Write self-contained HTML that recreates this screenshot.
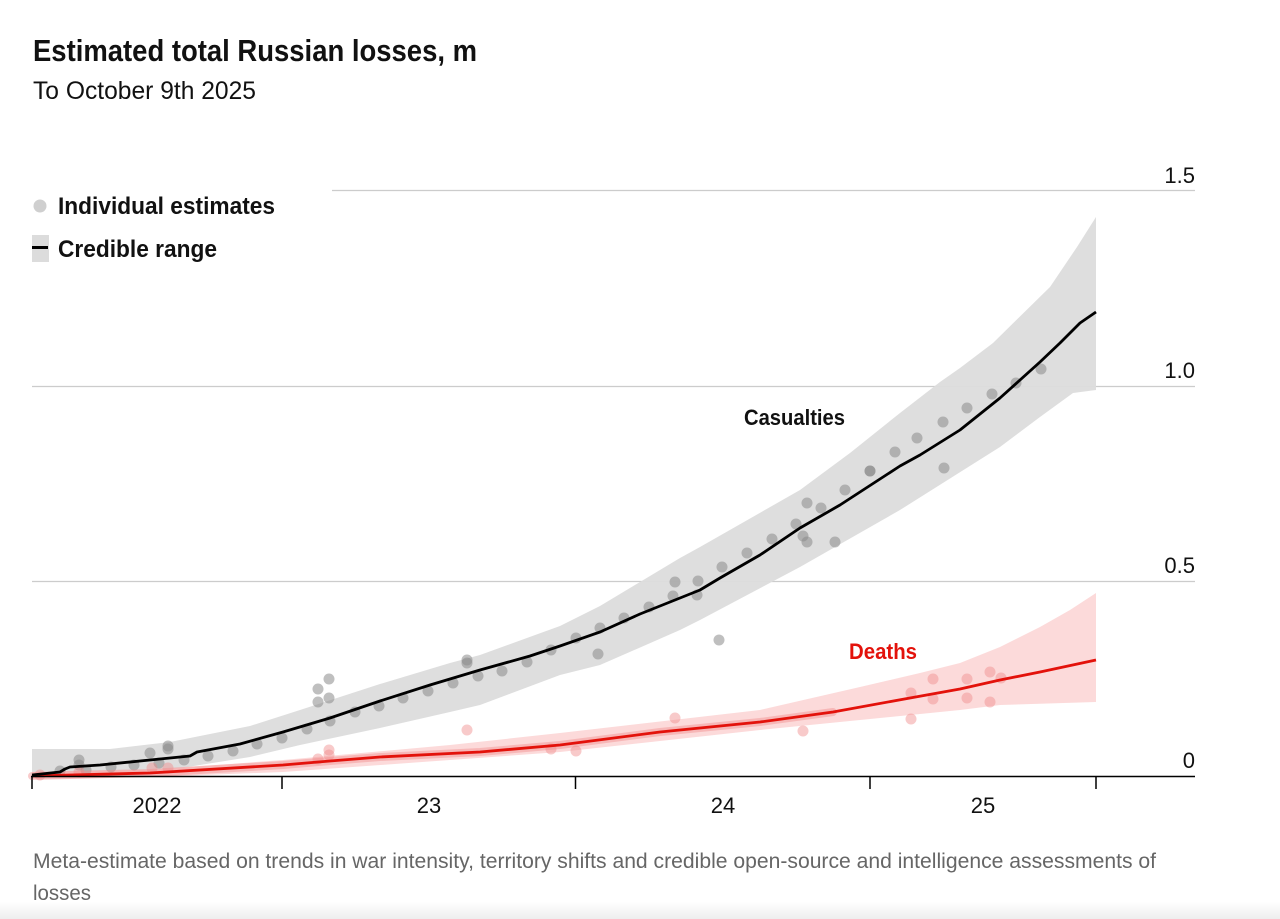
<!DOCTYPE html>
<html><head><meta charset="utf-8"><style>
html,body{margin:0;padding:0;background:#fff;}
svg{display:block;}
text{font-family:"Liberation Sans",Arial,sans-serif;}
</style></head><body>
<svg width="1280" height="919" viewBox="0 0 1280 919" xmlns="http://www.w3.org/2000/svg">
<defs>
<linearGradient id="bg" x1="0" y1="0" x2="0" y2="1">
<stop offset="0" stop-color="#ffffff"/><stop offset="1" stop-color="#eeeeee"/>
</linearGradient>
</defs>
<rect x="0" y="0" width="1280" height="919" fill="#fff"/>
<rect x="0" y="902" width="1280" height="17" fill="url(#bg)"/>

<!-- Title -->
<text x="33" y="61" font-size="31" font-weight="bold" fill="#111" textLength="444" lengthAdjust="spacingAndGlyphs">Estimated total Russian losses, m</text>
<text x="33" y="99" font-size="25" fill="#111" textLength="223" lengthAdjust="spacingAndGlyphs">To October 9th 2025</text>

<!-- Legend -->
<circle cx="40" cy="206" r="6.5" fill="#cfcfcf"/>
<text x="58" y="214" font-size="24" font-weight="bold" fill="#111" textLength="217" lengthAdjust="spacingAndGlyphs">Individual estimates</text>
<rect x="32" y="235" width="17" height="27" fill="#dcdcdc"/>
<line x1="32" y1="247.5" x2="48" y2="247.5" stroke="#000" stroke-width="3"/>
<text x="58" y="257" font-size="24" font-weight="bold" fill="#111" textLength="159" lengthAdjust="spacingAndGlyphs">Credible range</text>

<!-- Gridlines -->
<line x1="332" y1="190.5" x2="1195" y2="190.5" stroke="#cccccc" stroke-width="1.2"/>
<line x1="32" y1="386.5" x2="1195" y2="386.5" stroke="#cccccc" stroke-width="1.2"/>
<line x1="32" y1="581.5" x2="1195" y2="581.5" stroke="#cccccc" stroke-width="1.2"/>

<!-- Y labels -->
<text x="1195" y="183" font-size="22" fill="#111" text-anchor="end">1.5</text>
<text x="1195" y="378" font-size="22" fill="#111" text-anchor="end">1.0</text>
<text x="1195" y="573" font-size="22" fill="#111" text-anchor="end">0.5</text>
<text x="1195" y="768" font-size="22" fill="#111" text-anchor="end">0</text>

<!-- Casualties band -->
<polygon fill="#dcdcdc" fill-opacity="0.95" points="32,749 110,749 170,742 250,726 300,710 380,684 450,663 480,655 560,626 600,606 680,558 700,547 800,490 850,453 900,413 940,382 960,368 993,343 1050,287 1077,247 1096,217 1096,390 1073,393 1040,417 1000,447 900,510 800,567 700,620 680,630 600,665 560,675 480,705 450,712 380,728 300,745 250,757 150,773 32,776"/>

<!-- Deaths band -->
<polygon fill="#fbd3d3" fill-opacity="0.85" points="32,772 150,770 283,760 450,745 560,733 760,710 860,687 920,673 960,663 1000,647 1040,627 1070,610 1096,593 1096,702 1000,705 960,710 860,720 760,730 560,752 450,760 283,772 150,777 32,779"/>

<!-- Casualty points -->
<g fill="#8a8a8a" fill-opacity="0.55">
<circle cx="60" cy="771" r="5.5"/><circle cx="79" cy="760" r="5.5"/><circle cx="79" cy="765" r="5.5"/>
<circle cx="86" cy="770" r="5.5"/><circle cx="111" cy="767" r="5.5"/><circle cx="134" cy="765" r="5.5"/>
<circle cx="150" cy="753" r="5.5"/><circle cx="159" cy="763" r="5.5"/><circle cx="168" cy="746" r="5.5"/>
<circle cx="168" cy="749" r="5.5"/><circle cx="184" cy="760" r="5.5"/><circle cx="208" cy="756" r="5.5"/>
<circle cx="233" cy="751" r="5.5"/><circle cx="257" cy="744" r="5.5"/><circle cx="282" cy="738" r="5.5"/>
<circle cx="307" cy="729" r="5.5"/><circle cx="318" cy="689" r="5.5"/><circle cx="318" cy="702" r="5.5"/>
<circle cx="329" cy="679" r="5.5"/><circle cx="329" cy="698" r="5.5"/><circle cx="330" cy="721" r="5.5"/>
<circle cx="355" cy="712" r="5.5"/><circle cx="379" cy="706" r="5.5"/><circle cx="403" cy="698" r="5.5"/>
<circle cx="428" cy="691" r="5.5"/><circle cx="453" cy="683" r="5.5"/><circle cx="467" cy="660" r="5.5"/>
<circle cx="467" cy="663" r="5.5"/><circle cx="478" cy="676" r="5.5"/><circle cx="502" cy="671" r="5.5"/>
<circle cx="527" cy="662" r="5.5"/><circle cx="551" cy="650" r="5.5"/><circle cx="576" cy="638" r="5.5"/>
<circle cx="598" cy="654" r="5.5"/><circle cx="600" cy="628" r="5.5"/><circle cx="624" cy="618" r="5.5"/>
<circle cx="649" cy="607" r="5.5"/><circle cx="673" cy="596" r="5.5"/><circle cx="675" cy="582" r="5.5"/>
<circle cx="697" cy="595" r="5.5"/><circle cx="698" cy="581" r="5.5"/><circle cx="719" cy="640" r="5.5"/>
<circle cx="722" cy="567" r="5.5"/><circle cx="747" cy="553" r="5.5"/><circle cx="772" cy="539" r="5.5"/>
<circle cx="796" cy="524" r="5.5"/><circle cx="803" cy="536" r="5.5"/><circle cx="807" cy="503" r="5.5"/>
<circle cx="807" cy="542" r="5.5"/><circle cx="821" cy="508" r="5.5"/><circle cx="835" cy="542" r="5.5"/>
<circle cx="845" cy="490" r="5.5"/><circle cx="870" cy="471" r="5.5"/><circle cx="870" cy="471" r="5.5"/>
<circle cx="895" cy="452" r="5.5"/><circle cx="917" cy="438" r="5.5"/><circle cx="943" cy="422" r="5.5"/>
<circle cx="944" cy="468" r="5.5"/><circle cx="967" cy="408" r="5.5"/><circle cx="992" cy="394" r="5.5"/>
<circle cx="1016" cy="383" r="5.5"/><circle cx="1041" cy="369" r="5.5"/>
</g>

<!-- Deaths points -->
<g fill="#f08a8a" fill-opacity="0.45">
<circle cx="40" cy="775" r="5.5"/><circle cx="79" cy="772" r="5.5"/>
<circle cx="152" cy="768" r="5.5"/><circle cx="168" cy="768" r="5.5"/>
<circle cx="318" cy="759" r="5.5"/><circle cx="329" cy="750" r="5.5"/><circle cx="329" cy="755" r="5.5"/>
<circle cx="467" cy="730" r="5.5"/><circle cx="551" cy="749" r="5.5"/><circle cx="576" cy="751" r="5.5"/>
<circle cx="675" cy="718" r="5.5"/><circle cx="803" cy="731" r="5.5"/>
<circle cx="911" cy="693" r="5.5"/><circle cx="911" cy="719" r="5.5"/>
<circle cx="933" cy="679" r="5.5"/><circle cx="933" cy="699" r="5.5"/>
<circle cx="967" cy="679" r="5.5"/><circle cx="967" cy="698" r="5.5"/>
<circle cx="990" cy="672" r="5.5"/><circle cx="990" cy="702" r="5.5"/><circle cx="1001" cy="678" r="5.5"/>
</g>

<!-- Deaths halo (dense daily estimates) -->
<polyline fill="none" stroke="#f28b8b" stroke-opacity="0.45" stroke-width="8" stroke-linejoin="round" stroke-linecap="round"
 points="32,776 150,773 283,765 330,761 380,757 480,752 560,745 660,732 760,722 833,712"/>

<!-- Deaths line -->
<polyline fill="none" stroke="#e3120b" stroke-width="2.8" stroke-linejoin="round"
 points="32,776 150,773 283,765 330,761 380,757 480,752 560,745 660,732 760,722 833,712 910,698 960,689 1000,680 1040,672 1096,660"/>

<!-- Casualties line -->
<polyline fill="none" stroke="#000" stroke-width="2.8" stroke-linejoin="round"
 points="32,775 60,772 65,769 70,767 100,765 150,760 190,756 197,752 240,744 283,732 330,718 380,701 430,685 480,670 530,656 560,646 600,632 640,614 680,598 700,590 720,578 760,555 800,528 840,505 880,479 900,466 920,455 960,430 1000,398 1040,362 1060,343 1080,323 1096,312"/>

<!-- Series labels -->
<text x="744" y="425" font-size="22.5" font-weight="bold" fill="#111" textLength="101" lengthAdjust="spacingAndGlyphs">Casualties</text>
<text x="849" y="659" font-size="22.5" font-weight="bold" fill="#e3120b" textLength="68" lengthAdjust="spacingAndGlyphs">Deaths</text>

<!-- X axis -->
<line x1="31" y1="776.5" x2="1195" y2="776.5" stroke="#000" stroke-width="1.5"/>
<g stroke="#000" stroke-width="1.5">
<line x1="32" y1="776" x2="32" y2="789"/>
<line x1="282" y1="776" x2="282" y2="789"/>
<line x1="575.5" y1="776" x2="575.5" y2="789"/>
<line x1="870" y1="776" x2="870" y2="789"/>
<line x1="1096" y1="776" x2="1096" y2="789"/>
</g>
<text x="157" y="813" font-size="22" fill="#111" text-anchor="middle">2022</text>
<text x="429" y="813" font-size="22" fill="#111" text-anchor="middle">23</text>
<text x="723" y="813" font-size="22" fill="#111" text-anchor="middle">24</text>
<text x="983" y="813" font-size="22" fill="#111" text-anchor="middle">25</text>

<!-- Footnote -->
<text x="33" y="868" font-size="21" fill="#666" textLength="1123" lengthAdjust="spacingAndGlyphs">Meta-estimate based on trends in war intensity, territory shifts and credible open-source and intelligence assessments of</text>
<text x="33" y="900" font-size="21" fill="#666" textLength="58" lengthAdjust="spacingAndGlyphs">losses</text>
</svg>
</body></html>
